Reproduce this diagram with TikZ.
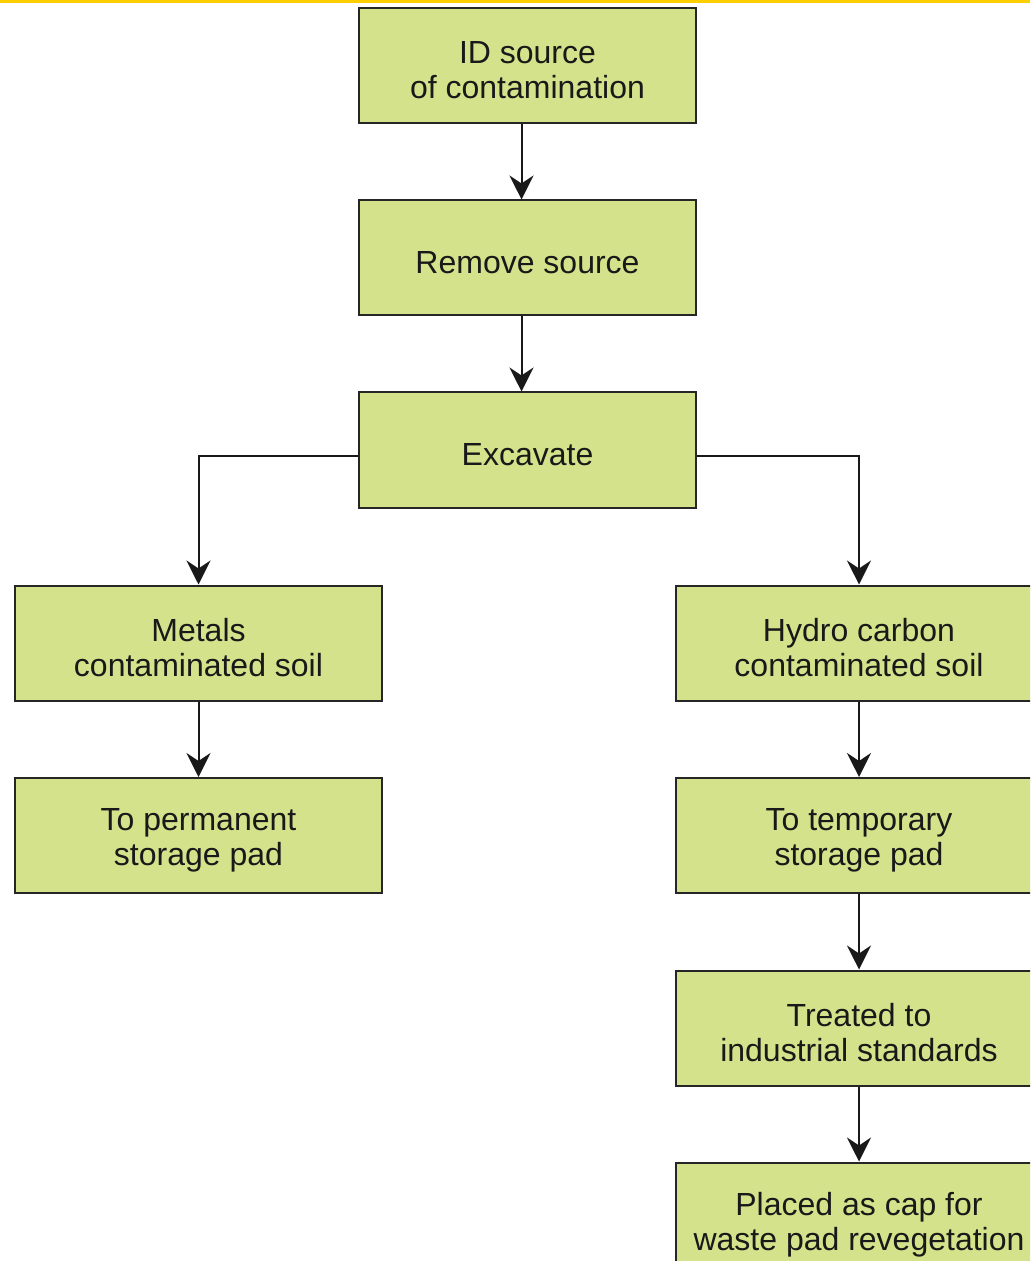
\documentclass[tikz,border=0pt]{standalone}
\usepackage{fontspec}
\setmainfont{Liberation Sans}
\usetikzlibrary{arrows.meta}
\definecolor{boxfill}{RGB}{212,227,139}
\definecolor{topbar}{RGB}{255,206,0}
\begin{document}
\begin{tikzpicture}[x=0.5pt,y=-0.5pt,
  txt/.style={inner sep=0pt,align=center,font=\fontsize{16}{17.5}\selectfont,text=black!90,yshift=-2.5pt},
  box/.style={draw=black!85,line width=1pt,fill=boxfill,minimum width=168.5pt,minimum height=57.5pt,inner sep=0pt,label={[txt]center:#1}},
  wbox/.style={box={#1},minimum width=183.5pt},
  conn/.style={draw=black!90,line width=1pt,-{Stealth[length=12pt,width=12pt,inset=4pt]}}]
\useasboundingbox (0,0) rectangle (1030,1261);
\clip (0,0) rectangle (1030,1261);
\fill[white] (0,0) rectangle (1030,1261);
\fill[topbar] (0,0) rectangle (1030,3);
\node[box={ID source\\of contamination}] (b1) at (527.5,65.5) {};
\node[box={Remove source}] (b2) at (527.5,258) {};
\node[box={Excavate}] (b3) at (527.5,450) {};
\node[wbox={Metals\\contaminated soil}] (l1) at (198.5,643) {};
\node[wbox={To permanent\\storage pad}] (l2) at (198.5,835.5) {};
\node[wbox={Hydro carbon\\contaminated soil}] (r1) at (859,643) {};
\node[wbox={To temporary\\storage pad}] (r2) at (859,835.5) {};
\node[wbox={Treated to\\industrial standards}] (r3) at (859,1028) {};
\node[wbox={Placed as cap for\\waste pad revegetation}] (r4) at (859,1220) {};
\draw[conn] ([xshift=-3pt]b1.south) -- ([xshift=-3pt]b2.north);
\draw[conn] ([xshift=-3pt]b2.south) -- ([xshift=-3pt]b3.north);
\coordinate (lt) at (198.5,456);
\coordinate (rt) at (859,456);
\draw[conn] (b3.west |- lt) -- (lt) -- (l1.north);
\draw[conn] (b3.east |- rt) -- (rt) -- (r1.north);
\draw[conn] (l1.south) -- (l2.north);
\draw[conn] (r1.south) -- (r2.north);
\draw[conn] (r2.south) -- (r3.north);
\draw[conn] (r3.south) -- (r4.north);
\end{tikzpicture}
\end{document}
